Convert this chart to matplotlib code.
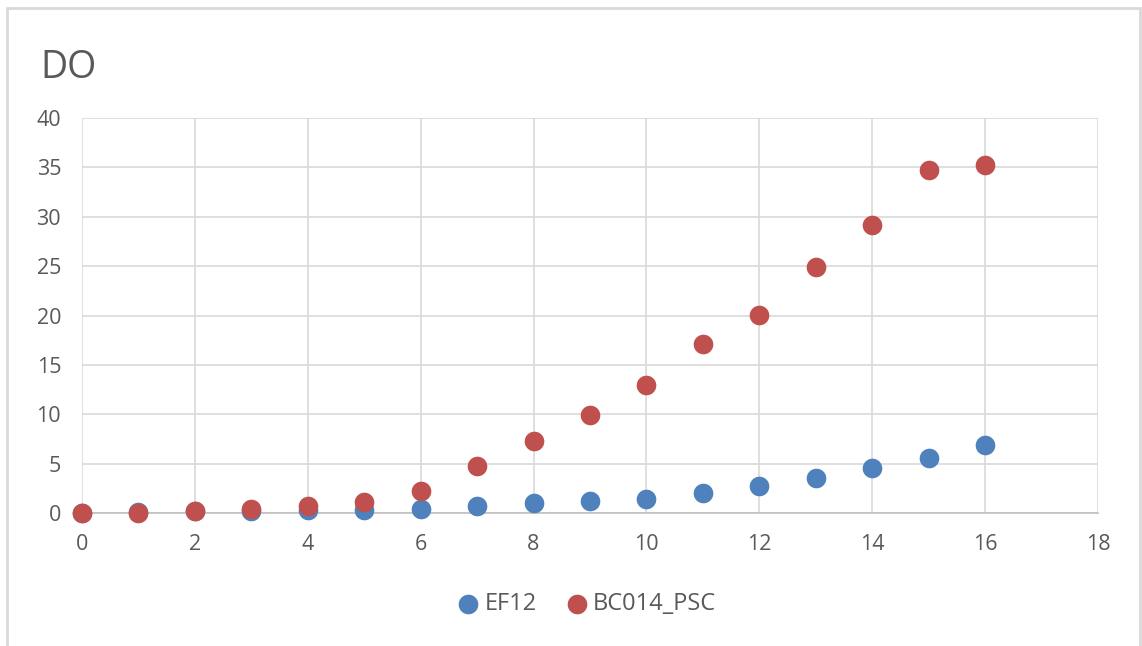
import matplotlib
matplotlib.use('Agg')
import matplotlib.pyplot as plt
from matplotlib.patches import Rectangle

plt.rcParams['font.family'] = ['Open Sans', 'DejaVu Sans']

days = list(range(17))
ef12 = [0.0, 0.15, 0.2, 0.2, 0.35, 0.35, 0.4, 0.7, 1.0, 1.25, 1.4, 2.0, 2.7, 3.55, 4.55, 5.55, 6.9]
bc014_psc = [0.0, 0.05, 0.25, 0.4, 0.7, 1.15, 2.2, 4.8, 7.3, 9.9, 13.0, 17.1, 20.05, 24.9, 29.2, 34.7, 35.2]
xticks = list(range(0, 19, 2))
yticks = list(range(0, 41, 5))

txt = '#595959'
grid = '#d9d9d9'

fig = plt.figure(figsize=(11.42, 6.46), dpi=100)
fig.patches.append(Rectangle((0.006, -0.01), 0.992, 0.998, transform=fig.transFigure,
                             fill=False, edgecolor='#d9d9d9', linewidth=2))
ax = fig.add_axes([82 / 1142, 133 / 646, (1098 - 82) / 1142, (513 - 118) / 646])

ax.scatter(days, ef12, s=200, color='#4F81BD', label='EF12', zorder=3, linewidths=0)
ax.scatter(days, bc014_psc, s=200, color='#C0504D', label='BC014_PSC', zorder=4, linewidths=0)

ax.set_xlim(0, 18)
ax.set_ylim(0, 40)
ax.set_xticks(xticks)
ax.set_yticks(yticks)
ax.grid(True, color=grid, linewidth=1.2)
ax.set_axisbelow(True)
for s in ['top', 'right', 'left']:
    ax.spines[s].set_visible(False)
ax.spines['bottom'].set_color('#bfbfbf')
ax.spines['bottom'].set_linewidth(1.2)
ax.tick_params(length=0, labelsize=15.5, colors=txt)
ax.tick_params(axis='x', pad=15)
ax.tick_params(axis='y', pad=15)
for c in ax.collections:
    c.set_clip_on(False)

fig.text(40 / 1142, 1 - 68 / 646, 'DO', fontsize=27, color=txt, va='center', ha='left')

leg = fig.legend(loc='center', bbox_to_anchor=(585 / 1142, 1 - 604 / 646), ncol=2,
                 frameon=False, fontsize=17, handletextpad=0.1, columnspacing=1.1,
                 markerscale=1.0, handlelength=1.2)
for t in leg.get_texts():
    t.set_color(txt)

plt.savefig('out.png', dpi=100)
